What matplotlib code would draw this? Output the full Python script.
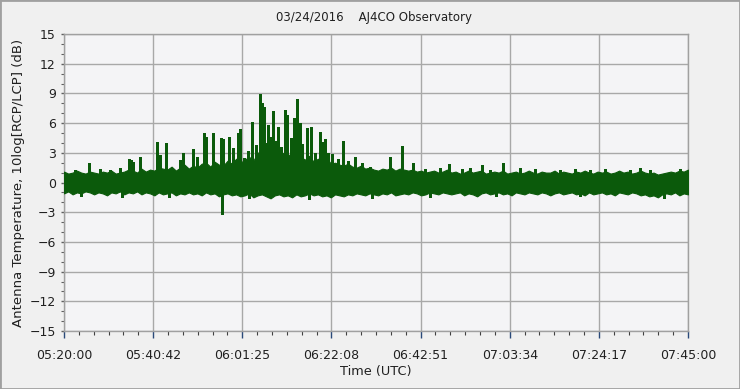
import numpy as np
import matplotlib
matplotlib.use("Agg")
import matplotlib.pyplot as plt
from matplotlib.ticker import AutoMinorLocator, FixedLocator
from matplotlib.patches import Rectangle

# ---- data (minutes after 05:20:00 UTC, values in dB) ----
x_tick_labels = ['05:20:00', '05:40:42', '06:01:25', '06:22:08',
                 '06:42:51', '07:03:34', '07:24:17', '07:45:00']

# band envelope sampled every minute (0 .. 145)
band_upper = [
    1.1, 0.9, 1.0, 1.2, 1.0, 0.9, 1.1, 1.0, 0.9, 1.1,
    1.0, 1.2, 0.9, 1.0, 1.1, 1.3, 1.2, 1.0, 1.4, 1.1,
    1.3, 1.2, 1.5, 1.4, 1.3, 1.6, 1.2, 1.5, 1.8, 1.4,
    1.7, 1.5, 1.9, 2.0, 1.6, 2.1, 1.8, 1.7, 2.2, 1.9,
    2.4, 2.0, 2.3, 2.6, 2.2, 3.0, 3.2, 2.8, 2.5, 3.1,
    2.7, 3.0, 2.9, 2.4, 3.2, 2.6, 2.3, 2.7, 2.1, 2.4,
    2.2, 2.5, 1.9, 2.0, 1.8, 1.7, 1.9, 1.6, 1.5, 1.7,
    1.4, 1.5, 1.3, 1.2, 1.4, 1.3, 1.5, 1.2, 1.4, 1.3,
    1.2, 1.3, 1.1, 1.2, 1.0, 1.1, 1.2, 1.0, 1.1, 1.3,
    1.0, 1.1, 0.9, 1.0, 1.2, 1.0, 1.1, 1.2, 0.9, 1.0,
    1.1, 1.0, 1.2, 0.9, 1.0, 1.1, 0.9, 1.0, 1.2, 1.0,
    0.9, 1.1, 1.0, 1.0, 1.2, 0.9, 1.1, 1.0, 0.9, 1.1,
    1.0, 1.2, 1.0, 0.9, 1.1, 1.0, 1.1, 0.9, 1.0, 1.2,
    1.0, 1.1, 0.9, 1.0, 1.2, 1.0, 0.9, 1.0, 0.8, 0.9,
    1.0, 1.1, 1.0, 1.2, 1.1, 1.3]
band_lower = [
    -1.1, -0.9, -1.2, -1.0, -1.1, -0.9, -1.0, -1.2, -1.0, -1.1,
    -1.3, -1.0, -1.1, -0.9, -1.2, -1.0, -1.1, -0.9, -1.2, -1.0,
    -1.1, -1.3, -1.0, -1.2, -1.1, -1.0, -1.3, -1.1, -1.2, -1.0,
    -1.2, -1.1, -1.3, -1.0, -1.2, -1.1, -1.4, -1.2, -1.1, -1.3,
    -1.2, -1.4, -1.3, -1.1, -1.5, -1.3, -1.2, -1.4, -1.6, -1.3,
    -1.2, -1.4, -1.3, -1.5, -1.2, -1.4, -1.3, -1.1, -1.3, -1.2,
    -1.4, -1.3, -1.5, -1.2, -1.3, -1.4, -1.2, -1.3, -1.1, -1.2,
    -1.3, -1.1, -1.2, -1.3, -1.1, -1.2, -1.0, -1.3, -1.2, -1.1,
    -1.2, -1.0, -1.1, -1.3, -1.2, -1.0, -1.1, -1.2, -1.0, -1.1,
    -1.2, -1.1, -1.0, -1.3, -1.1, -1.2, -1.4, -1.1, -1.0, -1.2,
    -1.1, -1.0, -1.2, -1.1, -1.3, -1.0, -1.1, -1.2, -1.0, -1.1,
    -1.2, -1.0, -1.1, -1.3, -1.1, -1.0, -1.2, -1.1, -1.0, -1.2,
    -1.1, -1.3, -1.0, -1.2, -1.1, -1.0, -1.2, -1.1, -1.3, -1.0,
    -1.1, -1.2, -1.0, -1.1, -1.3, -1.2, -1.4, -1.3, -1.5, -1.2,
    -1.1, -1.2, -1.0, -1.3, -1.1, -1.2]

# individual bursts (minute, peak dB)
spike_time = [5.8, 15.1, 15.6, 16.0, 17.7, 21.6, 22.3, 23.7, 27.0, 27.7,
              30.0, 30.9, 32.5, 33.0, 34.6, 36.5, 36.9, 38.3, 39.3, 40.4,
              40.9, 41.8, 42.8, 43.7, 44.6, 45.5, 46.0, 46.5, 46.9, 47.4,
              47.9, 48.6, 49.3, 49.7, 50.4, 51.4, 51.8, 52.8, 53.5, 54.1,
              54.8, 55.3, 56.5, 57.4, 58.3, 59.5, 60.2, 60.7, 61.4, 62.3,
              63.7, 64.8, 66.0, 67.6, 69.3, 71.1, 75.8, 78.6, 81.1, 89.5,
              97.1, 102.0, 133.9,
              2.6, 8.4, 10.7, 13.0, 83.9, 87.4, 92.5, 94.4, 99.0, 106.0,
              109.5, 115.3, 118.8, 122.2, 125.7, 131.5, 136.2, 143.2]
spike_peak = [2.0, 2.4, 2.3, 2.1, 2.6, 4.1, 2.8, 4.0, 2.3, 3.0,
              3.4, 2.6, 5.0, 4.6, 5.0, 4.5, 4.4, 4.6, 3.5, 5.0,
              5.4, 2.5, 3.2, 6.1, 3.8, 8.9, 8.0, 7.6, 4.0, 5.8,
              4.6, 7.2, 4.2, 5.6, 3.6, 7.3, 6.8, 4.5, 6.5, 8.4,
              6.0, 3.9, 5.5, 5.6, 3.0, 5.1, 4.1, 4.4, 3.0, 2.9,
              2.4, 4.2, 2.2, 2.6, 2.0, 1.6, 2.6, 3.7, 2.0, 1.9,
              1.8, 2.0, 1.5,
              1.3, 1.4, 1.3, 1.5, 1.4, 1.5, 1.4, 1.5, 1.3, 1.5,
              1.4, 1.3, 1.4, 1.3, 1.4, 1.3, 1.3, 1.4]
dip_time = [36.7, 13.5, 43.0, 57.0, 71.5, 85.0, 4.0, 24.5, 100.5, 120.0, 139.5]
dip_depth = [-3.2, -1.5, -1.6, -1.7, -1.6, -1.5, -1.4, -1.5, -1.4, -1.4, -1.6]

# ---- figure ----
W, H, DPI = 740, 389, 100
fig = plt.figure(figsize=(W / DPI, H / DPI), dpi=DPI, facecolor='#f0f0f0')
ax = fig.add_axes([64 / W, 1 - 331 / H, 624 / W, 297 / H])
ax.set_facecolor('#f4f4f6')

green = '#0b5a0b'
t_band = np.arange(len(band_upper))
ax.fill_between(t_band, band_lower, band_upper, color=green,
                edgecolor=green, lw=0.8, zorder=3)
ax.vlines(spike_time, 0, spike_peak, color=green, lw=1.0,
          antialiased=False, zorder=3)
ax.vlines(dip_time, 0, dip_depth, color=green, lw=1.0,
          antialiased=False, zorder=3)

ax.set_xlim(0, 145)
ax.set_ylim(-15, 15)
ax.xaxis.set_major_locator(FixedLocator(np.linspace(0, 145, 8)))
ax.set_xticklabels(x_tick_labels)
ax.xaxis.set_minor_locator(AutoMinorLocator(6))
ax.set_yticks(np.arange(-15, 16, 3))
ax.yaxis.set_minor_locator(AutoMinorLocator(3))

ax.grid(True, which='major', color='#a8a8a8', lw=1.0, zorder=1)
for s in ax.spines.values():
    s.set_color('#a0a0a0')
    s.set_linewidth(1.0)

ax.tick_params(axis='x', which='major', direction='out', length=5, width=1,
               color='#2a4a7a', pad=8, labelsize=9, labelcolor='#202020')
ax.tick_params(axis='x', which='minor', direction='out', length=3, width=0.8,
               color='#404040')
ax.tick_params(axis='y', which='major', direction='out', length=2, width=1,
               color='#606060', pad=4, labelsize=9, labelcolor='#202020')
ax.tick_params(axis='y', which='minor', direction='out', length=2, width=0.8,
               color='#606060')

ax.set_ylabel('Antenna Temperature, 10log[RCP/LCP] (dB)', fontsize=9.5,
              color='#202020')
ax.yaxis.set_label_coords((25 - 64) / 624, 0.5)
ax.set_xlabel('Time (UTC)', fontsize=9.3, color='#202020', labelpad=2)
fig.text(0.5 + 4 / W, 1 - 18 / H, '03/24/2016    AJ4CO Observatory',
         ha='center', va='center', fontsize=8.5, color='#202020')

fig.patches.append(Rectangle((0, 0), 1, 1, transform=fig.transFigure,
                             fill=False, edgecolor='#a0a0a0', lw=2))

fig.savefig('out.png', dpi=DPI, facecolor=fig.get_facecolor())
